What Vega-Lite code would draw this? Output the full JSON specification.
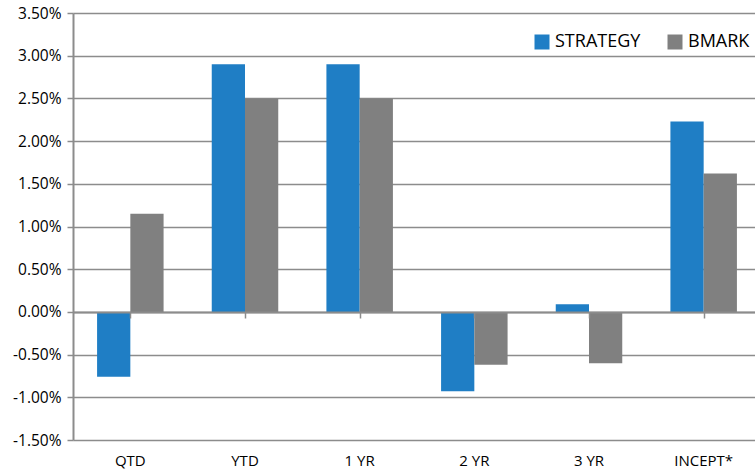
{
  "$schema": "https://vega.github.io/schema/vega-lite/v6.json",
  "width": 682,
  "height": 427,
  "autosize": {"type": "none"},
  "padding": {"left": 73, "top": 13, "right": 0, "bottom": 34},
  "config": {
    "view": {"stroke": null},
    "font": "Open Sans",
    "axis": {"labelColor": "#000000", "labelFont": "Open Sans"}
  },
  "data": {
    "values": [
      {"cat": "QTD", "series": "STRATEGY", "value": -0.0076},
      {"cat": "QTD", "series": "BMARK", "value": 0.0115},
      {"cat": "YTD", "series": "STRATEGY", "value": 0.029},
      {"cat": "YTD", "series": "BMARK", "value": 0.025},
      {"cat": "1 YR", "series": "STRATEGY", "value": 0.029},
      {"cat": "1 YR", "series": "BMARK", "value": 0.025},
      {"cat": "2 YR", "series": "STRATEGY", "value": -0.0093},
      {"cat": "2 YR", "series": "BMARK", "value": -0.0062},
      {"cat": "3 YR", "series": "STRATEGY", "value": 0.0009},
      {"cat": "3 YR", "series": "BMARK", "value": -0.006},
      {"cat": "INCEPT*", "series": "STRATEGY", "value": 0.0223},
      {"cat": "INCEPT*", "series": "BMARK", "value": 0.0162}
    ]
  },
  "resolve": {"scale": {"x": "independent"}, "axis": {"x": "independent"}},
  "layer": [
    {
      "mark": {"type": "bar"},
      "encoding": {
        "x": {
          "field": "cat",
          "type": "nominal",
          "sort": ["QTD", "YTD", "1 YR", "2 YR", "3 YR", "INCEPT*"],
          "scale": {"paddingInner": 0.42, "paddingOuter": 0.21, "range": [0, 688]},
          "axis": {
            "orient": "bottom",
            "title": null,
            "labelAngle": 0,
            "domain": false,
            "ticks": false,
            "grid": false,
            "labelFontSize": 15,
            "labelPadding": 13
          }
        },
        "xOffset": {"field": "series", "sort": ["STRATEGY", "BMARK"]},
        "y": {
          "field": "value",
          "type": "quantitative",
          "scale": {"domain": [-0.015, 0.035], "nice": false, "zero": false},
          "axis": {
            "title": null,
            "values": [-0.015, -0.01, -0.005, 0, 0.005, 0.01, 0.015, 0.02, 0.025, 0.03, 0.035],
            "labelExpr": "replace(format(datum.value, '.2%'), '\u2212', '-')",
            "labelFontSize": 15.5,
            "labelPadding": 6,
            "grid": true,
            "gridColor": "#8c8c8c",
            "gridWidth": 1.5,
            "domainColor": "#8c8c8c",
            "domainWidth": 2,
            "tickColor": "#8c8c8c",
            "tickWidth": 1.5,
            "tickSize": 6
          }
        },
        "color": {
          "field": "series",
          "type": "nominal",
          "sort": ["STRATEGY", "BMARK"],
          "scale": {"domain": ["STRATEGY", "BMARK"], "range": ["#1f7ec5", "#808080"]},
          "legend": {
            "orient": "none",
            "legendX": 460,
            "legendY": 20,
            "direction": "horizontal",
            "title": null,
            "symbolType": "square",
            "symbolSize": 225,
            "symbolStrokeWidth": 0,
            "labelFontSize": 18,
            "labelColor": "#000000",
            "labelOffset": 4,
            "columnPadding": 25,
            "padding": 0
          }
        }
      }
    },
    {
      "mark": {"type": "point", "opacity": 0},
      "encoding": {
        "x": {
          "field": "cat",
          "type": "nominal",
          "sort": ["QTD", "YTD", "1 YR", "2 YR", "3 YR", "INCEPT*"],
          "scale": {"paddingInner": 0, "paddingOuter": 0, "range": [0, 688]},
          "axis": {
            "orient": "top",
            "offset": -299,
            "labels": false,
            "title": null,
            "grid": false,
            "domain": true,
            "domainColor": "#8c8c8c",
            "domainWidth": 2,
            "ticks": true,
            "tickColor": "#8c8c8c",
            "tickWidth": 1.5,
            "tickSize": -6,
            "bandPosition": 0,
            "zindex": 1
          }
        },
        "y": {"datum": 0, "type": "quantitative"}
      }
    }
  ]
}
